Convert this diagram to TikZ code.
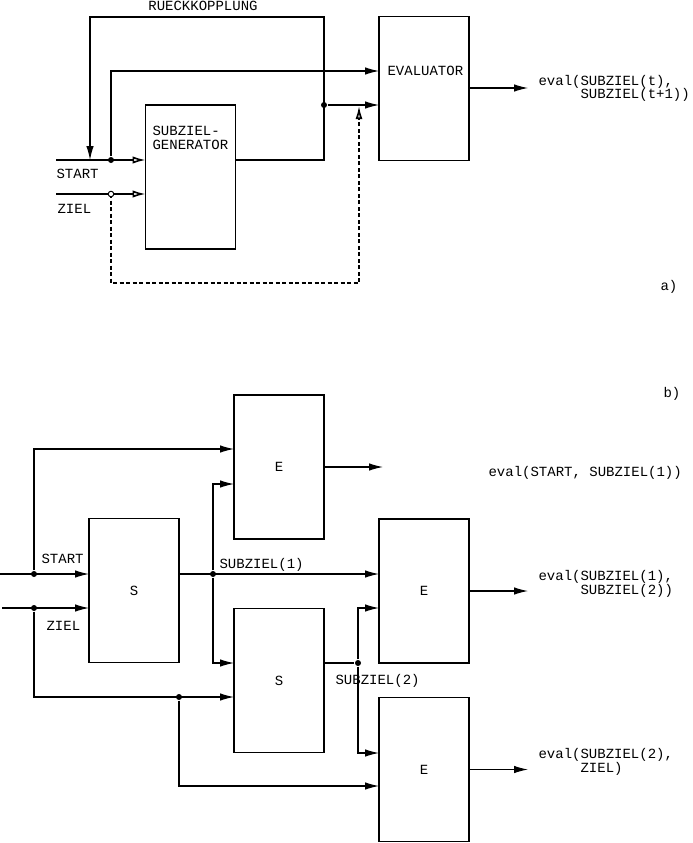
\documentclass[tikz,border=0pt]{standalone}
\usepackage{fontspec}
\setmonofont{Liberation Mono}
\usetikzlibrary{arrows.meta}
\begin{document}
\begin{tikzpicture}
[x=1pt,y=-1pt,line width=1.1pt,
 every node/.style={font=\ttfamily\fontsize{14}{13.5}\selectfont,inner sep=0pt},
 box/.style={rectangle,draw=black,minimum width=90pt,minimum height=144pt,outer sep=0pt},
 lab/.style={anchor=base west,align=left},
 dot/.style={circle,fill=black,minimum size=6pt},
 odot/.style={circle,draw=black,fill=white,minimum size=5.5pt,line width=1pt},
 arr/.style={-{Latex[length=14pt,width=7.5pt]}},
 oarr/.style={-{Latex[open,length=13pt,width=7.5pt,line width=1.6pt]}},
 darr/.style={dash pattern=on 4pt off 2.5pt,line width=1.5pt,
   -{Latex[open,fill=gray!45,length=13pt,width=7pt,line width=1.6pt]}}]
\useasboundingbox (0,0) rectangle (693,843);
% a)
\node (gen) [box] at (190.5,177) {};
\node (eva) [box] at (424,88.5) {};
\node (genlab) [lab] at (152,149) {SUBZIEL-\\GENERATOR};
\node (evalab) [lab] at (387,76) {EVALUATOR};
\node (rueck) [anchor=base] at (203,11) {RUECKKOPPLUNG};
\node (starta) [lab] at (56,178) {START};
\node (ziela) [lab] at (57,213) {ZIEL};
\node (outa) [lab] at (538,99) {eval(SUBZIEL(t),\\\phantom{eval(}SUBZIEL(t+1))};
\node (parta) [lab] at (660,290) {a)};
\coordinate (sa) at (56,160);
\coordinate (za) at (56,194);
\coordinate (fbr) at (324,17);
\coordinate (fbl) at (90,17);
\coordinate (fbend) at (90,160);
\coordinate (dz) at (359,283);
\coordinate (dtip) at (359,106);
\coordinate (evain) at (379,71);
\coordinate (evaout) at (528,88);
\node (j1) [dot] at (324,105) {};
\node (d1) [dot] at (111,160) {};
\draw[oarr] (sa) -- (gen.west |- sa);
\draw[oarr] (za) -- (gen.west |- za);
\draw[arr] (gen.east |- sa) -| (fbr) -- (fbl) -- (fbend);
\draw[arr] (j1) -- (eva.west |- j1);
\draw[arr] (d1) |- (evain);
\draw[darr] (111,194) |- (dz) -- (dtip);
\node (d2) [odot] at (111,194) {};
\draw[arr] (eva.east |- evaout) -- (evaout);
% b)
\node (partb) [lab] at (663,397) {b)};
\node (E1) [box] at (279,467) {E};
\node (S1) [box] at (134,590.5) {S};
\node (S2) [box] at (279,680.5) {S};
\node (E2) [box] at (424,591) {E};
\node (E3) [box] at (424,769.5) {E};
\node (startb) [lab] at (41,563) {START};
\node (zielb) [lab] at (46,630) {ZIEL};
\node (sub1) [lab] at (219,568) {SUBZIEL(1)};
\node (sub2) [lab] at (335,684) {SUBZIEL(2)};
\node (out1) [lab] at (488,476) {eval(START, SUBZIEL(1))};
\node (out2) [lab] at (538,594) {eval(SUBZIEL(1),\\\phantom{eval(}SUBZIEL(2))};
\node (out3) [lab] at (538,772) {eval(SUBZIEL(2),\\\phantom{eval(}ZIEL)};
\coordinate (sb) at (0,574);
\coordinate (zb) at (2,608);
\coordinate (e1in1) at (234,449);
\coordinate (e1in2) at (234,484);
\coordinate (s2in1) at (234,663);
\coordinate (s2in2) at (234,697);
\coordinate (e2in2) at (379,608);
\coordinate (e3in1) at (379,753);
\coordinate (e3in2) at (379,786);
\coordinate (e1out) at (383,467);
\coordinate (e2out) at (528,591);
\coordinate (e3out) at (528,769.5);
\node (b1) [dot] at (34,574) {};
\node (b2) [dot] at (34,608) {};
\node (b3) [dot] at (213,574) {};
\node (b4) [dot] at (179,697) {};
\node (b5) [dot] at (358,663) {};
\draw[arr] (sb) -- (S1.west |- sb);
\draw[arr] (zb) -- (S1.west |- zb);
\draw[arr] (b1) |- (e1in1);
\draw[arr] (S1.east |- sb) -- (E2.west |- sb);
\draw[arr] (b3) |- (e1in2);
\draw[arr] (b3) |- (s2in1);
\draw[arr] (b2) |- (s2in2);
\draw[arr] (b4) |- (e3in2);
\draw (S2.east |- b5) -- (b5);
\draw[arr] (b5) |- (e2in2);
\draw[arr] (b5) |- (e3in1);
\draw[arr] (E1.east) -- (e1out);
\draw[arr] (E2.east) -- (e2out);
\draw[arr] (E3.east) -- (e3out);
\end{tikzpicture}
\end{document}
